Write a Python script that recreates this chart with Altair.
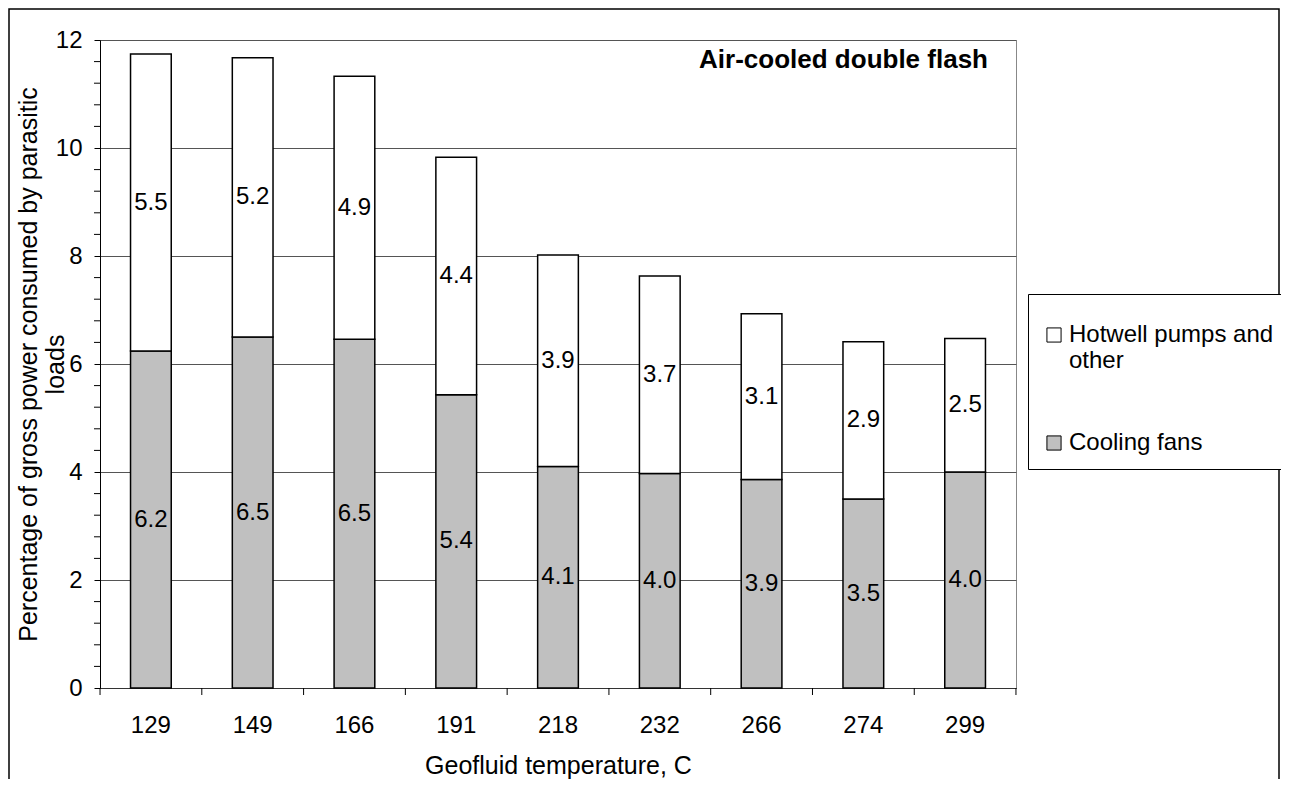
import altair as alt
import pandas as pd

# ---- data ----
temps = ["129", "149", "166", "191", "218", "232", "266", "274", "299"]
cooling_fans = [6.24, 6.5, 6.46, 5.43, 4.1, 3.97, 3.86, 3.5, 4.0]
hotwell_other = [5.5, 5.17, 4.87, 4.4, 3.92, 3.66, 3.07, 2.91, 2.47]
series_names = ["Hotwell pumps and other", "Cooling fans"]
series_colors = ["#ffffff", "#c0c0c0"]
y_major_ticks = [0, 2, 4, 6, 8, 10, 12]
y_minor_ticks = [0.4, 0.8, 1.2, 1.6, 2.4, 2.8, 3.2, 3.6, 4.4, 4.8, 5.2, 5.6,
                 6.4, 6.8, 7.2, 7.6, 8.4, 8.8, 9.2, 9.6, 10.4, 10.8, 11.2, 11.6]

rows = []
for t, c, h in zip(temps, cooling_fans, hotwell_other):
    rows.append({"temp": t, "series": series_names[1], "value": c, "order": 0})
    rows.append({"temp": t, "series": series_names[0], "value": h, "order": 1})
df = pd.DataFrame(rows)

FONT = "Liberation Sans"
yscale = alt.Scale(domain=[0, 12], nice=False, zero=True)
xscale = alt.Scale(paddingInner=0.6, paddingOuter=0.3)

base = alt.Chart(df).transform_stack(
    stack="value", groupby=["temp"], as_=["y0", "y1"],
    sort=[alt.SortField(field="order", order="ascending")],
).transform_calculate(mid="(datum.y0 + datum.y1) / 2")

bars = base.mark_bar(stroke="black", strokeWidth=1.5).encode(
    x=alt.X("temp:N", sort=temps, scale=xscale,
            axis=alt.Axis(title="Geofluid temperature, C", ticks=False,
                          labelAngle=0, labelFontSize=24, labelFont=FONT, labelColor="black",
                          labelPadding=25, domainColor="#333",
                          titleFontSize=25, titleFont=FONT, titleFontWeight="normal",
                          titleColor="black", titlePadding=16, grid=False)),
    y=alt.Y("y0:Q", scale=yscale,
            axis=alt.Axis(values=y_major_ticks, format="d", grid=True, gridColor="#555",
                          tickSize=6, tickColor="black", domainColor="black",
                          labelFontSize=24, labelFont=FONT, labelColor="black", labelPadding=12,
                          title=["Percentage of gross power consumed by parasitic", "loads"],
                          titleFontSize=25, titleFont=FONT, titleFontWeight="normal",
                          titleColor="black", titlePadding=-13)),
    y2="y1:Q",
    color=alt.Color("series:N", scale=alt.Scale(domain=series_names, range=series_colors),
                    legend=alt.Legend(title=" ", titleFontSize=8, titlePadding=7,
                                      orient="none", legendX=928, legendY=254,
                                      fillColor="white", strokeColor="black", padding=14,
                                      symbolType="square", symbolSize=200,
                                      symbolStrokeColor="black", symbolStrokeWidth=1,
                                      labelFontSize=24, labelFont=FONT, labelColor="black",
                                      labelLimit=400, labelOffset=3, rowPadding=58,
                                      labelExpr="datum.label == 'Hotwell pumps and other' ? ['Hotwell pumps and', 'other'] : datum.label")),
)

labels = base.mark_text(fontSize=24, font=FONT, color="black").encode(
    x=alt.X("temp:N", sort=temps, scale=xscale),
    y=alt.Y("mid:Q", scale=yscale),
    text=alt.Text("value:Q", format=".1f"),
)

minor_ticks = alt.Chart(pd.DataFrame({"v": y_minor_ticks})).mark_rule(
    color="black", strokeWidth=1
).encode(y=alt.Y("v:Q", scale=yscale), x=alt.value(-6), x2=alt.value(0))

# x ticks on category boundaries (left edge of each slot, and right edge of the last one)
cat_ticks = alt.Chart(pd.DataFrame({"temp": temps})).mark_rule(
    color="black", strokeWidth=1, xOffset=-30.5
).encode(x=alt.X("temp:N", sort=temps, scale=xscale, bandPosition=0),
         y=alt.value(648), y2=alt.value(655))
end_tick = alt.Chart(pd.DataFrame({"temp": temps[-1:]})).mark_rule(
    color="black", strokeWidth=1, xOffset=30.5
).encode(x=alt.X("temp:N", sort=temps, scale=xscale, bandPosition=1),
         y=alt.value(648), y2=alt.value(655))

frame = alt.Chart(pd.DataFrame({"k": [0]})).mark_rect(
    fill="transparent", fillOpacity=0, stroke="black", strokeWidth=1.5
).encode(x=alt.value(-91), x2=alt.value(1179), y=alt.value(-31), y2=alt.value(760))

chart = alt.layer(bars, labels, minor_ticks, cat_ticks, end_tick, frame).properties(
    width=916, height=648,
    padding={"left": 92, "top": 32, "right": 265, "bottom": 91},
    autosize=alt.AutoSizeParams(type="none"),
    title=alt.TitleParams("Air-cooled double flash", anchor="end", frame="group",
                          orient="top", offset=0, dx=-28, dy=86, fontSize=26,
                          fontWeight="bold", font=FONT, color="black", baseline="alphabetic"),
).configure(background="white").configure_view(stroke="#888", strokeWidth=1)

chart.save("out.html", embed_options={"renderer": "svg", "actions": False})
